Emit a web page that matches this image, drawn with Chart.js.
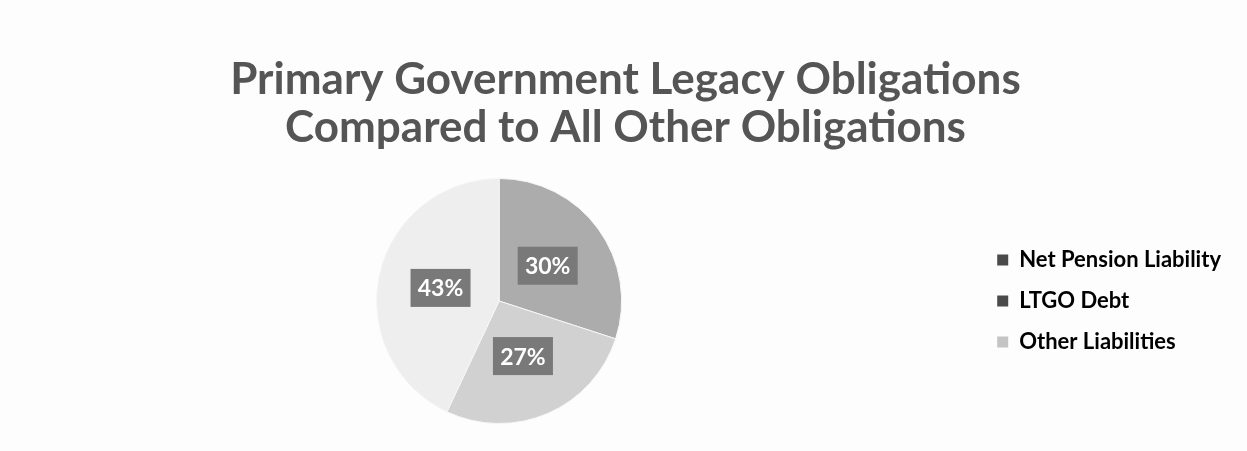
<!DOCTYPE html>
<html>
<head>
<meta charset="utf-8">
<script src="https://cdn.jsdelivr.net/npm/chart.js@4"></script>
<style>
  html, body { margin: 0; padding: 0; background: #fdfdfd; }
  #wrap { width: 1247px; height: 451px; }
</style>
</head>
<body>
<div id="wrap"><canvas id="graficoObligaciones"></canvas></div>
<script>
// datos
const categories = ['Net Pension Liability', 'LTGO Debt', 'Other Liabilities'];
const shares = [30, 27, 43];
const chartTitle = ['Primary Government Legacy Obligations', 'Compared to All Other Obligations'];

const sliceColors = ['#acacac', '#d1d1d1', '#eeeeee'];
const legendColors = ['#4a4a4a', '#4a4a4a', '#c4c4c4'];

// etiquetas con caja gris sobre cada porcion
const boxLabels = {
    id: 'boxLabels',
    afterDatasetsDraw(chart) {
        const ctx = chart.ctx;
        const meta = chart.getDatasetMeta(0);
        meta.data.forEach(function(arc, i) {
            const p = arc.getProps(['x', 'y', 'startAngle', 'endAngle', 'outerRadius'], true);
            const mid = (p.startAngle + p.endAngle) / 2;
            const r = p.outerRadius * 0.49;
            const cx = p.x + Math.cos(mid) * r;
            const cy = p.y + Math.sin(mid) * r;
            ctx.save();
            ctx.fillStyle = '#797979';
            ctx.fillRect(cx - 30, cy - 19, 60, 38);
            ctx.fillStyle = '#ffffff';
            ctx.font = 'bold 23px Lato';
            ctx.textAlign = 'center';
            ctx.textBaseline = 'middle';
            ctx.fillText(shares[i] + '%', cx, cy + 1);
            ctx.restore();
        });
    }
};

const ctx = document.getElementById('graficoObligaciones').getContext('2d');
const chart = new Chart(ctx, {
    type: 'pie',
    data: {
        labels: categories,
        datasets: [{
            data: shares,
            backgroundColor: sliceColors,
            borderColor: '#f6f6f6',
            borderWidth: 1
        }]
    },
    options: {
        responsive: true,
        maintainAspectRatio: false,
        animation: false,
        layout: { padding: { top: 56, bottom: 27, left: 20, right: 16 } },
        plugins: {
            tooltip: { enabled: false },
            title: {
                display: true,
                text: chartTitle,
                color: '#555555',
                font: { family: 'Lato', size: 44, weight: 'bold', lineHeight: '48px' },
                padding: { top: 0, bottom: 26 }
            },
            legend: {
                position: 'right',
                align: 'center',
                fullSize: false,
                labels: {
                    color: '#444444',
                    font: { family: 'Lato', size: 22, weight: 'bold' },
                    boxWidth: 11,
                    boxHeight: 11,
                    padding: 19,
                    generateLabels: function(chart) {
                        return chart.data.labels.map(function(label, index) {
                            return {
                                text: label,
                                fillStyle: legendColors[index],
                                strokeStyle: legendColors[index],
                                lineWidth: 0,
                                hidden: false,
                                index: index
                            };
                        });
                    }
                }
            }
        }
    },
    plugins: [boxLabels]
});
</script>
</body>
</html>
